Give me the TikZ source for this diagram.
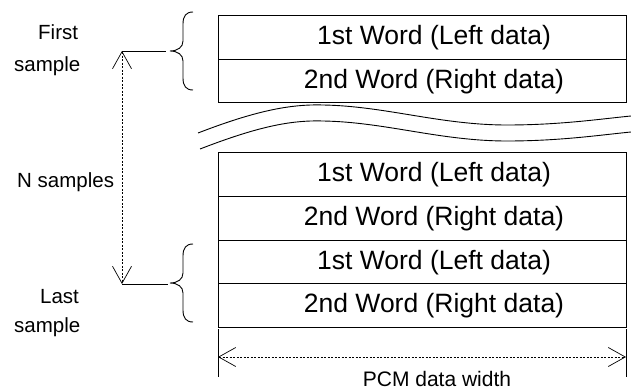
\documentclass[tikz,border=0pt]{standalone}
\usepackage{fontspec}
\setmainfont{Liberation Sans}
\usetikzlibrary{arrows.meta}
\begin{document}
\begin{tikzpicture}[x=1pt,y=-1pt,
  row/.style={draw, line width=1pt, minimum width=408pt, minimum height=43.75pt, inner sep=0pt, anchor=north west},
  wtext/.style={font=\fontsize{26.5}{30}\selectfont, anchor=base, inner sep=0pt},
  lab/.style={font=\fontsize{20.5}{24}\selectfont, anchor=base west, inner sep=0pt},
  barb/.tip={Straight Barb[length=17pt,width=19pt,line width=0.7pt]},
  dim/.style={line width=0.6pt, dash pattern=on 2pt off 1.5pt, barb-barb},
  thin/.style={line width=0.9pt},
  brc/.style={line width=0.9pt},
  wave/.style={line width=0.9pt}]
\useasboundingbox (0,0) rectangle (631,390);
% rows
\node[row] (a1) at (218,15) {};
\node[row] (a2) at (218,58.75) {};
\node[row] (b1) at (218,152) {};
\node[row] (b2) at (218,195.75) {};
\node[row] (b3) at (218,239.5) {};
\node[row] (b4) at (218,283.25) {};
\node[wtext] (ta1) at (434,44.5) {1st Word (Left data)};
\node[wtext] (ta2) at (434,88.2) {2nd Word (Right data)};
\node[wtext] (tb1) at (434,181.5) {1st Word (Left data)};
\node[wtext] (tb2) at (434,225.2) {2nd Word (Right data)};
\node[wtext] (tb3) at (434,269) {1st Word (Left data)};
\node[wtext] (tb4) at (434,312.7) {2nd Word (Right data)};
% break lines
\draw[wave] (198,133) .. controls (255,111) and (290,104) .. (323,105) .. controls (385,106) and (440,125) .. (507,125) .. controls (560,125) and (600,119) .. (631,116);
\draw[wave] (200,149) .. controls (257,127) and (290,120) .. (323,121) .. controls (385,122) and (440,141) .. (507,141) .. controls (560,141) and (600,135) .. (631,132);
% braces
\coordinate (tipA) at (170,51);
\coordinate (tipB) at (170,283);
\draw[brc] (193,12) .. controls (186,12) and (183,16) .. (183,24) -- (183,41) .. controls (183,47) and (178,51) .. (tipA) .. controls (178,51) and (183,55) .. (183,61) -- (183,78) .. controls (183,86) and (186,90) .. (193,90);
\draw[brc] (193,244) .. controls (186,244) and (183,248) .. (183,256) -- (183,273) .. controls (183,279) and (178,283) .. (tipB) .. controls (178,283) and (183,287) .. (183,293) -- (183,310) .. controls (183,318) and (186,322) .. (193,322);
% N samples arrow
\coordinate (nTop) at (122,51);
\coordinate (nBot) at (122,284);
\coordinate (lTop) at (166,51);
\coordinate (lBot) at (168,284);
\draw[thin] (nTop) -- (lTop);
\draw[thin] (nBot) -- (lBot);
\draw[dim] (nTop) -- (nBot);
% labels
\node[lab] (first) at (38,40) {First};
\node[lab] (samp1) at (14,72) {sample};
\node[lab] (nsam) at (17,187) {N samples};
\node[lab] (last) at (40,303) {Last};
\node[lab] (samp2) at (14,332) {sample};
% PCM width
\coordinate (w1t) at (218,329);
\coordinate (w1b) at (218,377);
\coordinate (w2t) at (626,329);
\coordinate (w2b) at (626,377);
\coordinate (wl) at (218,357);
\coordinate (wr) at (626,357);
\draw[thin] (w1t) -- (w1b);
\draw[thin] (w2t) -- (w2b);
\draw[dim] (wl) -- (wr);
\node[font=\fontsize{21}{24}\selectfont, anchor=base, inner sep=0pt] (pcm) at (437,386) {PCM data width};
\end{tikzpicture}
\end{document}
